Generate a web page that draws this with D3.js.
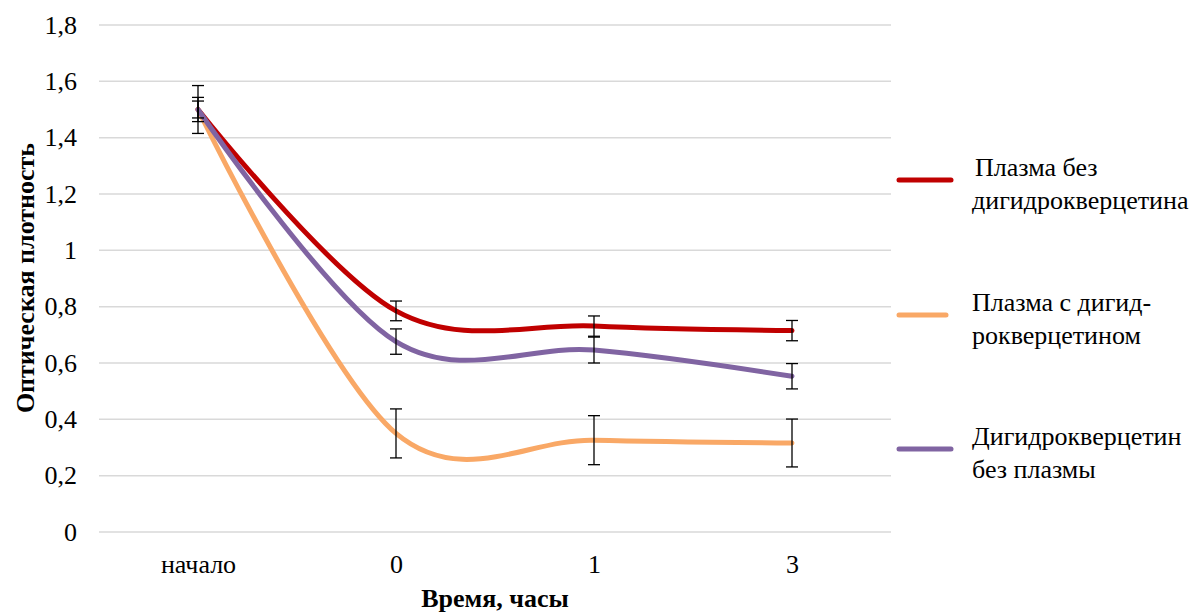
<!DOCTYPE html>
<html>
<head>
<meta charset="utf-8">
<script src="https://cdn.jsdelivr.net/npm/d3@7"></script>
<style>
  body { margin: 0; background: #fff; }
  svg text { font-family: 'Liberation Serif', Tinos, Times, serif !important; }
</style>
</head>
<body>
<svg id="chart" width="1197" height="615"></svg>
<script>
// categories and data
var categories = ["начало", "0", "1", "3"];
var yTicks = [0, 0.2, 0.4, 0.6, 0.8, 1, 1.2, 1.4, 1.6, 1.8];

var seriesNames = [["Плазма без", "дигидрокверцетина"], ["Плазма с дигид-", "рокверцетином"], ["Дигидрокверцетин", "без плазмы"]];
var seriesColors = ["#C00000", "#F9A866", "#8064A2"];

var plasmaNoDhq = [1.50, 0.785, 0.731, 0.715];
var plasmaNoDhqErr = [0.03, 0.035, 0.036, 0.036];
var plasmaDhq = [1.50, 0.35, 0.326, 0.316];
var plasmaDhqErr = [0.085, 0.087, 0.087, 0.085];
var dhqNoPlasma = [1.50, 0.676, 0.646, 0.553];
var dhqNoPlasmaErr = [0.043, 0.045, 0.046, 0.045];

var values = [plasmaNoDhq, plasmaDhq, dhqNoPlasma];
var errors = [plasmaNoDhqErr, plasmaDhqErr, dhqNoPlasmaErr];

var FONT = "'Liberation Serif', Tinos, Times, serif";
var FS = "26px";
var svg = d3.select("#chart");

var xScale = d3.scalePoint()
    .domain(categories)
    .range([198, 792]);

var yScale = d3.scaleLinear()
    .domain([0, 1.8])
    .range([532, 25]);

var fmt = function(d) { return String(+d.toFixed(1)).replace(".", ","); };

// gridlines
svg.append("g").selectAll("line")
    .data(yTicks)
    .enter().append("line")
    .attr("x1", 99).attr("x2", 891)
    .attr("y1", function(d) { return yScale(d); })
    .attr("y2", function(d) { return yScale(d); })
    .attr("stroke", "#d9d9d9")
    .attr("stroke-width", 1.5);

// y axis labels
var yAxis = svg.append("g")
    .attr("transform", "translate(88,0)")
    .call(d3.axisLeft(yScale).tickValues(yTicks).tickFormat(fmt).tickSize(0).tickPadding(11));
yAxis.attr("font-family", FONT).attr("font-size", 26);
yAxis.select(".domain").remove();
yAxis.selectAll("text").attr("fill", "#000").style("font-size", FS);

// x axis labels
var xAxis = svg.append("g")
    .attr("transform", "translate(0,532)")
    .call(d3.axisBottom(xScale).tickSize(0).tickPadding(23));
xAxis.attr("font-family", FONT).attr("font-size", 26);
xAxis.select(".domain").remove();
xAxis.selectAll("text").attr("fill", "#000").style("font-size", FS);

// axis titles
svg.append("text")
    .attr("x", 495).attr("y", 607)
    .attr("text-anchor", "middle")
    .style("font-size", FS).style("font-weight", "bold")
    .text("Время, часы");

svg.append("text")
    .attr("transform", "translate(34,278) rotate(-90)")
    .attr("text-anchor", "middle")
    .style("font-size", FS).style("font-weight", "bold")
    .text("Оптическая плотность");

// lines
var line = d3.line()
    .x(function(d, i) { return xScale(categories[i]); })
    .y(function(d) { return yScale(d); })
    .curve(d3.curveCatmullRom.alpha(0));

values.forEach(function(vals, s) {
    svg.append("path")
        .datum(vals)
        .attr("d", line)
        .attr("fill", "none")
        .attr("stroke", seriesColors[s])
        .attr("stroke-width", 5)
        .attr("stroke-linecap", "round");
});

// error bars
values.forEach(function(vals, s) {
    var g = svg.append("g").attr("stroke", "#000").attr("stroke-width", 1.3);
    vals.forEach(function(v, i) {
        var x = xScale(categories[i]);
        var e = errors[s][i];
        g.append("line").attr("x1", x).attr("x2", x)
            .attr("y1", yScale(v + e)).attr("y2", yScale(v - e));
        g.append("line").attr("x1", x - 6).attr("x2", x + 6)
            .attr("y1", yScale(v + e)).attr("y2", yScale(v + e));
        g.append("line").attr("x1", x - 6).attr("x2", x + 6)
            .attr("y1", yScale(v - e)).attr("y2", yScale(v - e));
    });
});

// legend
var legendY = [180, 315, 449];
seriesNames.forEach(function(name, s) {
    svg.append("line")
        .attr("x1", 899).attr("x2", s == 1 ? 946 : 951)
        .attr("y1", legendY[s]).attr("y2", legendY[s])
        .attr("stroke", seriesColors[s])
        .attr("stroke-width", 5)
        .attr("stroke-linecap", "round");
    var t = svg.append("text")
        .attr("y", legendY[s] - 4)
        .style("font-size", FS);
    t.append("tspan").attr("x", s == 0 ? 975 : 972).text(name[0]);
    t.append("tspan").attr("x", 972).attr("dy", 33).text(name[1]);
});
</script>
</body>
</html>
